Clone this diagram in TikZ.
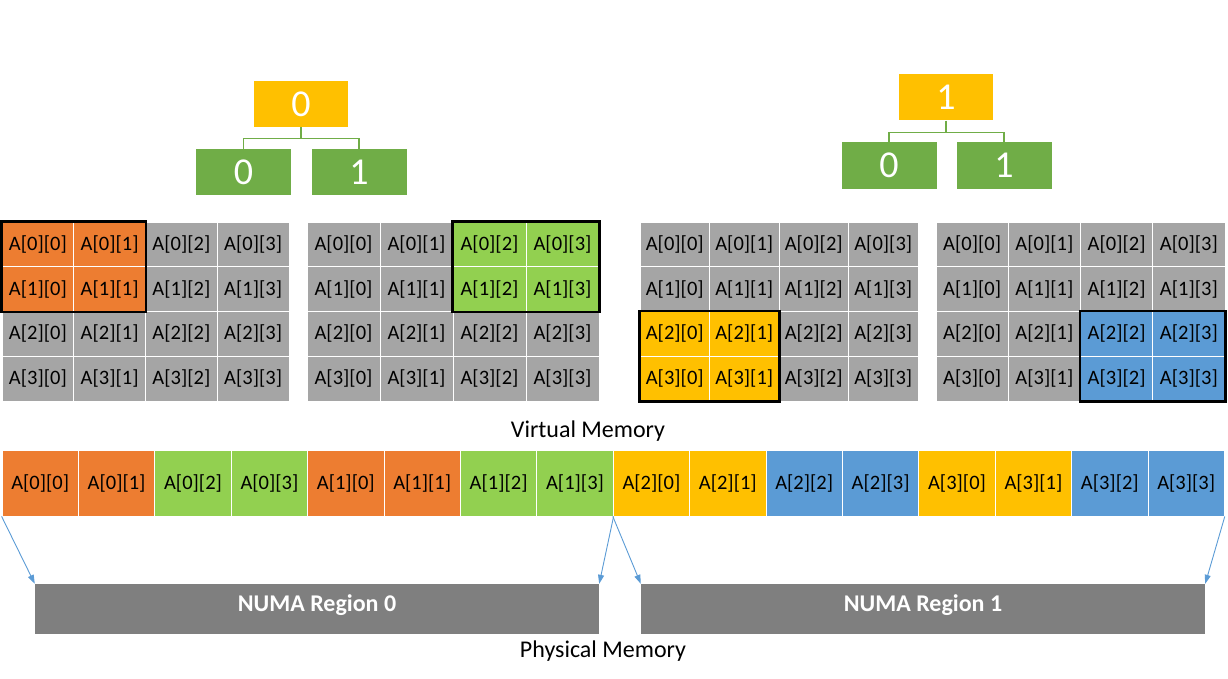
\documentclass[tikz,border=0pt]{standalone}
\usepackage{fontspec}
\setmainfont{Carlito}
\usetikzlibrary{arrows.meta}
\definecolor{cOrange}{HTML}{ED7D31}
\definecolor{cGreen}{HTML}{92D050}
\definecolor{cGold}{HTML}{FFC000}
\definecolor{cBlue}{HTML}{5B9BD5}
\definecolor{cGray}{HTML}{A5A5A5}
\definecolor{cDark}{HTML}{70AD47}
\definecolor{cNuma}{HTML}{7F7F7F}
\tikzset{
 cell/.style={rectangle, draw=white, line width=0.8pt, inner sep=0pt, minimum height=44.75pt, font=\fontsize{20.5}{24}\selectfont, text=black},
 hlbox/.style={draw=black, line width=2.5pt},
 rootbox/.style={rectangle, fill=cGold, text=white, inner sep=0pt, minimum width=94pt, minimum height=46pt, font=\fontsize{38}{44}\selectfont},
 leafbox/.style={rectangle, fill=cDark, text=white, inner sep=0pt, minimum width=95pt, minimum height=46pt, font=\fontsize{38}{44}\selectfont},
 tree/.style={draw=cDark, line width=1.2pt},
 barcell/.style={rectangle, draw=white, line width=0.8pt, inner sep=0pt, minimum width=76.4pt, minimum height=66pt, font=\fontsize{20.5}{24}\selectfont, text=black},
 numa/.style={rectangle, fill=cNuma, text=white, inner sep=0pt, minimum width=564pt, minimum height=50pt, text depth=12pt, font=\bfseries\fontsize{24}{28}\selectfont},
 map/.style={draw=cBlue, line width=0.9pt, -{Triangle[length=9pt,width=6pt]}},
 caption/.style={font=\fontsize{24}{28}\selectfont, inner sep=0pt}
}
% #1 name, #2 x0, #3 cell width, #4 highlight colour, #5 first hl row, #6 first hl col
\newcommand\mygrid[6]{%
 \foreach \r in {0,...,3}{\foreach \c in {0,...,3}{%
  \pgfmathtruncatemacro\ishl{and(and(\r>=#5,\r<=#5+1),and(\c>=#6,\c<=#6+1))}%
  \def\fc{cGray}%
  \ifnum\ishl=1 \def\fc{#4}\fi
  \node[cell, fill=\fc, minimum width=#3pt] (#1\r\c) at (#2+\c*#3+#3/2, 222+\r*44.75+22.375) {A[\r][\c]};
 }}%
}
\begin{document}
\begin{tikzpicture}[x=1pt,y=-1pt]
\useasboundingbox (0,0) rectangle (1228,679);
% trees
\node[rootbox] (r0) at (301,104) {0};
\node[leafbox] (r0a) at (243.5,172) {0};
\node[leafbox] (r0b) at (359,172) {1};
\draw[tree] (r0.south) -- ++(0,11) coordinate (r0m) -| (r0a.north);
\draw[tree] (r0m) -| (r0b.north);
\node[rootbox] (r1) at (946,97.5) {1};
\node[leafbox, minimum height=47pt] (r1a) at (889,165.5) {0};
\node[leafbox, minimum height=47pt] (r1b) at (1004,165.5) {1};
\draw[tree] (r1.south) -- ++(0,12) coordinate (r1m) -| (r1a.north);
\draw[tree] (r1m) -| (r1b.north);
% grids
\mygrid{ga}{2}{71.75}{cOrange}{0}{0}
\mygrid{gb}{307}{73}{cGreen}{0}{2}
\mygrid{gc}{640}{69.5}{cGold}{2}{0}
\mygrid{gd}{936}{72.25}{cBlue}{2}{2}
\draw[hlbox] (ga00.north west) rectangle (ga11.south east);
\draw[hlbox] (gb02.north west) rectangle (gb13.south east);
\draw[hlbox] (gc20.north west) rectangle (gc31.south east);
\draw[hlbox] (gd22.north west) rectangle (gd33.south east);
% captions
\node[caption] (vm) at (588,431) {Virtual Memory};
\node[caption] (pm) at (603,651) {Physical Memory};
% bar
\foreach \i in {0,...,15}{%
  \pgfmathtruncatemacro\rr{int(\i/4)}%
  \pgfmathtruncatemacro\cc{mod(\i,4)}%
  \ifnum\rr<2 \ifnum\cc<2 \def\fc{cOrange}\else\def\fc{cGreen}\fi
  \else \ifnum\cc<2 \def\fc{cGold}\else\def\fc{cBlue}\fi\fi
  \node[barcell, fill=\fc] (b\i) at (2+\i*76.4+38.2, 483) {A[\rr][\cc]};
}
% NUMA regions
\node[numa] (n0) at (317,609) {NUMA Region 0};
\node[numa] (n1) at (923,609) {NUMA Region 1};
% mapping arrows
\draw[map] (b0.south west) -- (n0.north west);
\draw[map] (b7.south east) -- (n0.north east);
\draw[map] (b8.south west) -- (n1.north west);
\draw[map] (b15.south east) -- (n1.north east);
\end{tikzpicture}
\end{document}
